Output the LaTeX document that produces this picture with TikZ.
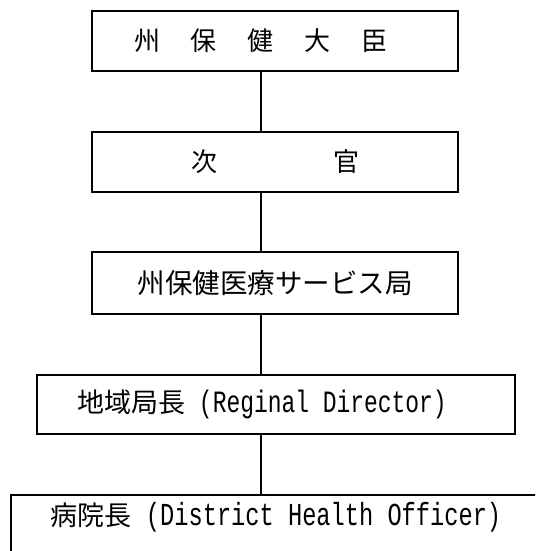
\documentclass[tikz,border=0pt]{standalone}
\usepackage{fontspec}
\newfontfamily\jp{Noto Sans CJK JP}
\newfontfamily\hw[FakeStretch=0.74]{Liberation Mono}
\begin{document}
\begin{tikzpicture}[x=1pt,y=-1pt,
  orgbox/.style={draw=black, line width=1.8pt, rectangle, inner sep=0pt,
    font=\jp\fontsize{26pt}{30pt}\selectfont, anchor=center},
  link/.style={draw=black, line width=2pt}]
\useasboundingbox (0,0) rectangle (535,551);
\clip (0,0) rectangle (535,551);
\fill[white] (0,0) rectangle (535,551);
\coordinate (cx) at (261,0);
\node[orgbox, minimum width=366pt, minimum height=60pt] (b1) at (275,41)
  {州\kern31pt 保\kern31pt 健\kern31pt 大\kern31pt 臣\kern28pt};
\node[orgbox, minimum width=366pt, minimum height=60pt] (b2) at (275,162)
  {次\kern116pt 官};
\node[orgbox, minimum width=366pt, minimum height=62pt, font=\jp\fontsize{27.5pt}{31pt}\selectfont] (b3) at (275,283)
  {州保健医療サービス局};
\node[orgbox, minimum width=478pt, minimum height=59pt, font=\jp\fontsize{27pt}{31pt}\selectfont] (b4) at (276,404.5)
  {地域局長{\hw\fontsize{31pt}{33pt}\selectfont\ (Reginal Director)}\kern28pt};
\node[orgbox, anchor=north, minimum width=530pt, text height=31pt, text depth=80pt,
  font=\jp\fontsize{27pt}{31pt}\selectfont] (b5) at (276,494)
  {病院長{\hw\fontsize{32pt}{33pt}\selectfont\ (District Health Officer)}};
\draw[link] (b1.south -| cx) -- (b2.north -| cx);
\draw[link] (b2.south -| cx) -- (b3.north -| cx);
\draw[link] (b3.south -| cx) -- (b4.north -| cx);
\draw[link] (b4.south -| cx) -- (b5.north -| cx);
\end{tikzpicture}
\end{document}
